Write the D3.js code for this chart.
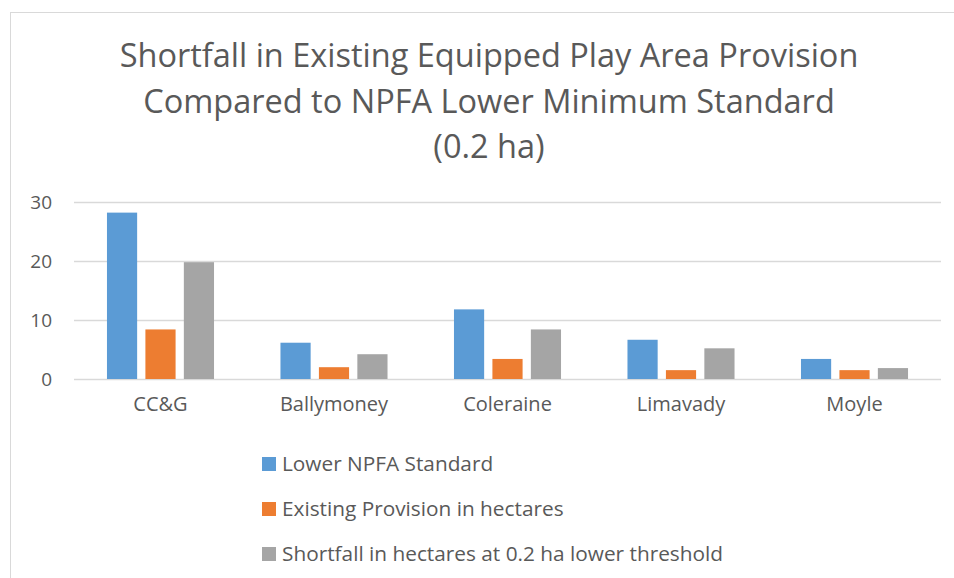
<!DOCTYPE html>
<html>
<head>
<meta charset="utf-8">
<script src="https://cdn.jsdelivr.net/npm/d3@7"></script>
<style>
  body { margin: 0; background: #fff; }
  text { font-family: "Open Sans", sans-serif; fill: #595959; }
</style>
</head>
<body>
<svg id="chart" width="954" height="578"></svg>
<script>
// data
const councils = ["CC&G", "Ballymoney", "Coleraine", "Limavady", "Moyle"];
const seriesNames = [
  "Lower NPFA Standard",
  "Existing Provision in hectares",
  "Shortfall in hectares at 0.2 ha lower threshold"
];
const lowerStandard = [28.2, 6.15, 11.8, 6.65, 3.4];
const existingProvision = [8.4, 2.0, 3.4, 1.5, 1.5];
const shortfall = [19.8, 4.2, 8.4, 5.2, 1.85];
const yTicks = [0, 10, 20, 30];
const colors = ["#5b9bd5", "#ed7d31", "#a5a5a5"];
const titleLines = [
  "Shortfall in Existing Equipped Play Area Provision",
  "Compared to NPFA Lower Minimum Standard",
  "(0.2 ha)"
];

const seriesVals = [lowerStandard, existingProvision, shortfall];

const svg = d3.select("#chart");

// chart frame
svg.append("rect")
  .attr("x", 10.5).attr("y", 12.5)
  .attr("width", 960).attr("height", 600)
  .attr("fill", "none").attr("stroke", "#d9d9d9").attr("stroke-width", 1);

// title
svg.append("g").selectAll("text")
  .data(titleLines)
  .join("text")
  .attr("x", 489)
  .attr("y", (d, i) => 67 + i * 45.6)
  .attr("text-anchor", "middle")
  .attr("font-size", 32.5)
  .text(d => d);

const left = 74, right = 941;
const x = d3.scaleBand().domain(councils).range([left, right])
  .paddingInner(0.383).paddingOuter(0.19);
const xs = d3.scaleBand().domain(d3.range(3)).range([0, x.bandwidth()])
  .paddingInner(0.215);
const y = d3.scaleLinear().domain([0, 30]).range([379, 202]);

// gridlines
svg.append("g").selectAll("line")
  .data(yTicks)
  .join("line")
  .attr("x1", left).attr("x2", right)
  .attr("y1", d => Math.round(y(d)) + 0.5)
  .attr("y2", d => Math.round(y(d)) + 0.5)
  .attr("stroke", "#d9d9d9").attr("stroke-width", 1.5);

// y axis labels
const yAxis = d3.axisLeft(y).tickValues(yTicks).tickSize(0).tickPadding(0);
svg.append("g")
  .attr("transform", "translate(52,0)")
  .call(yAxis)
  .call(g => g.select(".domain").remove())
  .call(g => g.selectAll("text")
    .attr("font-size", 19).attr("font-family", null).attr("fill", null));

// bars
const groups = svg.append("g").selectAll("g")
  .data(councils)
  .join("g")
  .attr("transform", d => `translate(${x(d)},0)`);

groups.selectAll("rect")
  .data((d, i) => seriesVals.map((s, k) => ({ k, v: s[i] })))
  .join("rect")
  .attr("x", d => xs(d.k))
  .attr("width", xs.bandwidth())
  .attr("y", d => y(d.v))
  .attr("height", d => y(0) - y(d.v))
  .attr("fill", d => colors[d.k]);

// category labels
const xAxis = d3.axisBottom(x).tickSize(0).tickPadding(0);
svg.append("g")
  .attr("transform", "translate(0,397)")
  .call(xAxis)
  .call(g => g.select(".domain").remove())
  .call(g => g.selectAll("text")
    .attr("font-size", 20).attr("font-family", null).attr("fill", null)
    .attr("dy", "0.71em"));

// legend
const legend = svg.append("g").selectAll("g")
  .data(seriesNames)
  .join("g")
  .attr("transform", (d, i) => `translate(262,${464 + i * 45})`);
legend.append("rect")
  .attr("x", 0).attr("y", -7)
  .attr("width", 14).attr("height", 14)
  .attr("fill", (d, i) => colors[i]);
legend.append("text")
  .attr("x", 20).attr("dy", "0.35em")
  .attr("font-size", 20.8)
  .text(d => d);
</script>
</body>
</html>
